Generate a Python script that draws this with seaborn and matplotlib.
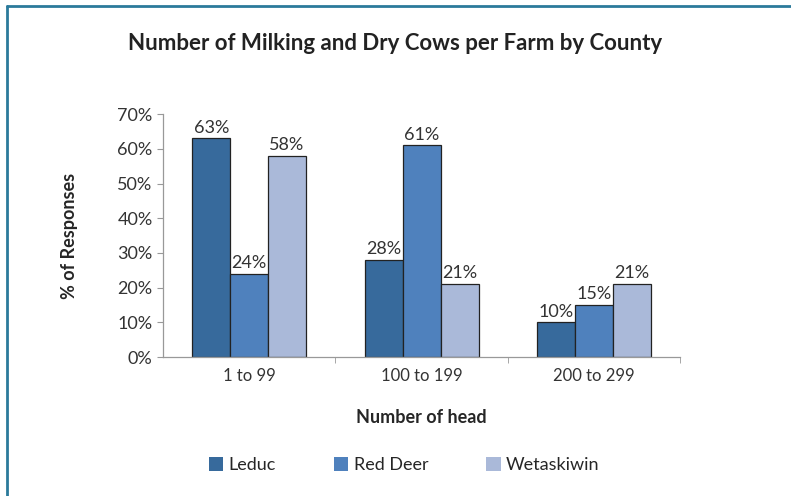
import pandas as pd
import matplotlib.pyplot as plt
import seaborn as sns
from matplotlib.lines import Line2D
from matplotlib.patches import Patch
from matplotlib.ticker import PercentFormatter, FixedLocator

herd_sizes = ["1 to 99", "100 to 199", "200 to 299"]
counties = ["Leduc", "Red Deer", "Wetaskiwin"]
leduc = [63, 28, 10]
red_deer = [24, 61, 15]
wetaskiwin = [58, 21, 21]
colors = ["#376a9c", "#4f81bd", "#aab9d9"]

df = pd.DataFrame({
    "size": herd_sizes * 3,
    "county": [c for c in counties for _ in herd_sizes],
    "pct": leduc + red_deer + wetaskiwin,
})

sns.set_style("white")
plt.rcParams["font.family"] = ["Lato", "DejaVu Sans"]

fig = plt.figure(figsize=(7.91, 4.96), dpi=100)
ax = fig.add_axes([0.206, 0.280, 0.654, 0.490])

sns.barplot(data=df, x="size", y="pct", hue="county", palette=colors, saturation=1,
            width=0.66, edgecolor="#222222", linewidth=0.9, ax=ax, legend=False)

for cont in ax.containers:
    ax.bar_label(cont, fmt="%d%%", padding=2, fontsize=13, color="#333333")

ax.set_ylim(0, 70)
ax.set_xlim(-0.5, 2.5)
ax.yaxis.set_major_formatter(PercentFormatter(decimals=0))
ax.set_yticks(range(0, 71, 10))
ax.tick_params(axis="y", labelsize=13, colors="#333333", length=4, width=0.8,
               direction="out", left=True, color="#999999")
ax.tick_params(axis="x", labelsize=12, colors="#333333", length=0, pad=8)
ax.xaxis.set_minor_locator(FixedLocator([0.5, 1.5, 2.5]))
ax.tick_params(axis="x", which="minor", length=4, color="#999999", bottom=True)

sns.despine(ax=ax)
for s in ["left", "bottom"]:
    ax.spines[s].set_color("#999999")
    ax.spines[s].set_linewidth(0.9)

ax.set_xlabel("Number of head", fontsize=13, fontweight="bold", labelpad=18)
ax.set_ylabel("% of Responses", fontsize=13, fontweight="bold", labelpad=28)

fig.text(0.5, 0.912, "Number of Milking and Dry Cows per Farm by County",
         ha="center", va="center", fontsize=16, fontweight="bold", color="#222222")

handles = [Patch(facecolor=c, edgecolor="none") for c in colors]
fig.legend(handles, counties, loc="center", bbox_to_anchor=(0.511, 0.062), ncol=3,
           frameon=False, fontsize=13, handlelength=0.8, handleheight=0.8,
           handletextpad=0.3, columnspacing=3.2)

# frame lines on the top and left edge
fig.add_artist(Line2D([0.009, 1.0], [0.988, 0.988], color="#2b7a9b", lw=2))
fig.add_artist(Line2D([0.009, 0.009], [0.0, 0.988], color="#2b7a9b", lw=2))

fig.savefig("out.png", dpi=100)
